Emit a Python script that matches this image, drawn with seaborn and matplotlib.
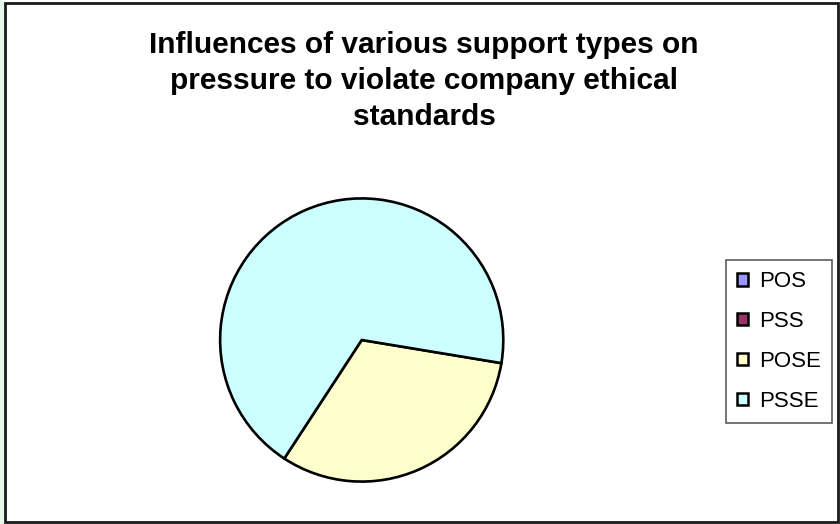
import matplotlib
matplotlib.use("Agg")
import matplotlib.pyplot as plt
import seaborn as sns
from matplotlib.patches import Rectangle

sns.set_theme(style="white")
plt.rcParams['font.family'] = ['Liberation Sans', 'DejaVu Sans']
plt.rcParams['text.color'] = 'black'

categories = ["POS", "PSS", "POSE", "PSSE"]
values = [0.0, 0.0, 31.6, 68.4]
colors = ["#9999FF", "#993366", "#FFFFCC", "#CCFFFF"]
title = "Influences of various support types on\npressure to violate company ethical\nstandards"

W, H = 840, 524
fig = plt.figure(figsize=(W / 100, H / 100), dpi=100)
fig.patch.set_facecolor("white")

# outer frame
fig.patches.append(Rectangle((0, 0), 4 / W, 1, transform=fig.transFigure,
                             facecolor="#E6F7EE", edgecolor="none", zorder=-2))
fig.patches.append(Rectangle((4.5 / W, 2 / H), (837.5 - 4.5) / W, (521.5 - 2) / H,
                             transform=fig.transFigure, facecolor="white",
                             edgecolor="#1a1a1a", linewidth=2, zorder=-1))

cx, cy, r = 361.7, 340.0, 143.0
ax = fig.add_axes([(cx - r) / W, (H - cy - r) / H, 2 * r / W, 2 * r / H])
ax.set_zorder(1)
ax.patch.set_alpha(0)
wedges, _ = ax.pie(values, colors=colors, startangle=-9.4, counterclock=False,
                   wedgeprops=dict(edgecolor="black", linewidth=1.9))
ax.set_xlim(-1.01, 1.01)
ax.set_ylim(-1.01, 1.01)
ax.set_aspect("equal")
ax.axis("off")

fig.text(424 / W, 1 - 81 / H, title, ha="center", va="center", fontsize=21.5,
         fontweight="bold", linespacing=1.38, color="black")

leg = fig.legend(wedges, categories, loc="upper left",
                 bbox_to_anchor=(726 / W, 1 - 260 / H), frameon=True,
                 fontsize=16, handlelength=0.5, handleheight=0.5,
                 handletextpad=0.5, labelspacing=0.85, borderpad=0.5,
                 fancybox=False, borderaxespad=0)
leg.get_frame().set_edgecolor("#333333")
leg.get_frame().set_linewidth(1.2)
leg.set_zorder(2)
for t in leg.get_texts():
    t.set_color("black")
for h in leg.legend_handles:
    h.set_linewidth(1.8)

fig.savefig("out.png", dpi=100, facecolor="white")
